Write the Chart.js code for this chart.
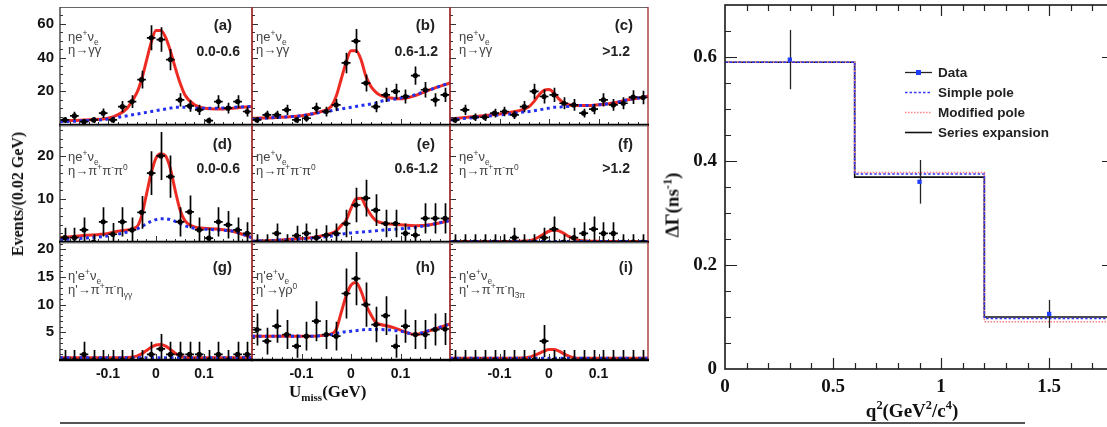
<!DOCTYPE html>
<html><head><meta charset="utf-8">
<script src="https://cdn.jsdelivr.net/npm/chart.js@4.4.1/dist/chart.umd.js"></script>
<style>
html,body{margin:0;padding:0;background:#fff;}
body{width:1107px;height:427px;overflow:hidden;position:relative;}
canvas{position:absolute;}
.t{position:absolute;white-space:nowrap;font-family:"Liberation Sans",Arial,sans-serif;line-height:1;}
.t sup,.t sub{font-size:65%;line-height:0;}
.f{font-size:13px;color:#444;line-height:13px;}
.tag{font-size:15px;font-weight:bold;color:#222;}
.rng{font-size:14px;font-weight:bold;color:#222;}
.ax{font-family:"Liberation Serif","Times New Roman",serif;font-weight:bold;color:#111;}
</style></head><body>
<script>
// ---------------- DATA ----------------
const uBins = [-0.19,-0.17,-0.15,-0.13,-0.11,-0.09,-0.07,-0.05,-0.03,-0.01,0.01,0.03,0.05,0.07,0.09,0.11,0.13,0.15,0.17,0.19];
const curveX = [-0.2,-0.15,-0.1,-0.08,-0.06,-0.04,-0.03,-0.02,-0.01,0,0.01,0.02,0.03,0.04,0.05,0.06,0.08,0.1,0.13,0.16,0.2];
const uTicks = [-0.1, 0, 0.1];
const row1Ticks = [20, 40, 60];
const row2Ticks = [10, 20];
const row3Ticks = [5, 10, 15, 20];

const aVals = [3,5.4,2,3,7,3,10.9,13.9,26.9,51.7,50.7,38.8,14.9,11.3,9,2.6,13.9,10,13.9,8];
const aErrs = [1.8,2.4,1.5,1.8,2.8,1.8,3.4,3.8,5.3,7.4,7.3,6.3,3.9,3.4,3,1.8,3.8,3.2,3.8,2.9];
const aFit  = [2.5,3,4,6,10,19,27,38,49,56,56,52,44,34,25,18,12,10,9.5,10,11];
const aBkg  = [2,2.5,3.5,4.5,5.5,6.5,7,7.5,8,8.5,9,9.5,10,10.5,10.5,10.5,10,10,10,10.5,11];

const bVals = [3,6,6,9,3,4,10,8,11.9,36.8,49.8,24.9,10.9,17.9,19.9,16.9,29.3,20.9,14.9,17.9];
const bErrs = [1.8,2.5,2.5,3,1.8,2.1,3.2,2.9,3.5,6.1,7.1,5,3.3,4.2,4.5,4.1,5.4,4.6,3.9,4.2];
const bFit  = [4,4.5,5.5,6.5,8,11,17,27,37,44,44,39,29,23,19.5,17.5,16,15.5,17.5,21,25];
const bBkg  = [3.5,4.5,5.5,6.5,7.5,8.5,9,9.5,10,10.5,11,11.5,12,12.5,13,14,15,16,18,21,25];

const cVals = [3,9,4.6,4.6,7,8,6,10.9,19.9,16.9,17.9,12.9,11.9,7,9.4,14.9,11.9,12.9,16.5,16.3];
const cErrs = [1.8,3,2.2,2.2,2.6,2.8,2.5,3.3,4.5,4.1,4.2,3.6,3.5,2.6,3,3.9,3.5,3.6,4.1,4];
const cFit  = [3.5,5,6.5,7.5,8.5,11,14,18,20.5,21,19,15.5,13,12,11.5,11.5,11.5,12,13,15,17];
const cBkg  = [3,4.5,6,6.5,7.5,8,8.5,9,9.5,10,10.5,10.5,11,11,11.5,11.5,11.5,12,13,15,17];

const dVals = [1,1,2.8,0,4.7,1.8,4.7,2.8,6.9,16,20,15.2,4.7,7,2.8,0.9,4.7,4,2.8,2];
const dErrs = [2.3,2.3,2.9,1.8,3.4,2.6,3.4,2.9,3.8,5.1,5.6,4.9,3.4,3.8,2.9,2.3,3.4,3.2,2.9,2.6];
const dFit  = [1,1.5,2,2.5,2.8,3.5,6,11,16,19.5,20.5,20,17,12,7.5,5,3.5,3.2,3,2.5,1];
const dBkg  = [0.5,0.9,1.4,1.8,2.3,3,3.6,4.2,4.8,5.2,5.4,5.4,5.2,4.8,4.3,3.8,3.2,3,2.8,2.5,1];

const eVals = [0,0,2,0,1.5,2,1,1.6,2,4.3,8.6,10.2,7.4,4.3,4.3,2,1.6,5.5,5.5,5.5];
const eErrs = [1.8,1.8,2.3,1.8,2.3,2.3,2.1,2.3,2.3,3.2,4,4.3,3.7,3.2,3.2,2.3,2.2,3.5,3.5,3.5];
const eFit  = [0.2,0.4,0.8,1,1.4,2,2.6,3.8,5,7.8,10,10.2,8.2,6.3,5,4.5,4.2,4,3.8,4,5];
const eBkg  = [0.2,0.4,0.7,0.9,1.1,1.4,1.6,1.8,2,2.1,2.2,2.3,2.4,2.5,2.6,2.7,2.9,3.1,3.4,4,5];

const fVals = [0,0,0,0,0,0,1,0,0,1,3,0,1,2,3,2,2,0,0,0];
const fErrs = [1.8,1.8,1.8,1.8,1.8,1.8,2.3,1.8,1.8,2.3,2.9,1.8,2.3,2.6,2.9,2.6,2.6,1.8,1.8,1.8];
const fFit  = [0.1,0.1,0.1,0.1,0.15,0.3,0.6,1.2,1.9,2.5,2.8,2.6,2,1.3,0.7,0.4,0.2,0.15,0.1,0.1,0.1];
const fBkg  = [0.1,0.1,0.1,0.1,0.1,0.1,0.1,0.1,0.1,0.1,0.1,0.1,0.1,0.1,0.1,0.1,0.1,0.1,0.1,0.1,0.1];

const gVals = [0,0,1,0,0,0,0,0,0,1,2,1,1,1,1,0,1,0,1,1];
const gErrs = [1.8,1.8,2.3,1.8,1.8,1.8,1.8,1.8,1.8,2.3,2.7,2.3,2.3,2.3,2.3,1.8,2.3,1.8,2.3,2.3];
const gFit  = [0.4,0.4,0.4,0.4,0.45,0.7,1.1,1.7,2.3,2.7,2.8,2.5,1.9,1.2,0.7,0.5,0.4,0.4,0.4,0.4,0.4];
const gBkg  = [0.4,0.4,0.4,0.4,0.4,0.4,0.4,0.4,0.4,0.4,0.4,0.4,0.4,0.4,0.4,0.4,0.4,0.4,0.4,0.4,0.4];

const hVals = [5.5,3.4,6.1,4.6,2.5,4.3,7,4.6,4.3,12,14.7,10,6.4,8,2.5,6.1,4.6,4.6,5.5,5.6];
const hErrs = [2.9,2.4,3,2.6,2.1,2.6,3.6,2.6,2.6,4.5,4.8,4,3.2,3.5,2.1,3,2.6,2.6,2.9,2.9];
const hFit  = [4.3,4.3,4.3,4.3,4.4,4.7,5.5,8.5,11.5,13.5,14,12.5,10,8.2,6.8,6.4,6,5.4,4.6,5.3,6.5];
const hBkg  = [4.3,4.3,4.3,4.3,4.4,4.6,4.8,5,5.1,5.2,5.3,5.4,5.5,5.5,5.5,5.5,5.4,5.2,4.7,5.4,6.5];

const iVals = [0,0,0,0,0,0,0,0,0,3.4,0,0,0,0,0,0,0,0,0,0];
const iErrs = [1.8,1.8,1.8,1.8,1.8,1.8,1.8,1.8,1.8,2.9,1.8,1.8,1.8,1.8,1.8,1.8,1.8,1.8,1.8,1.8];
const iFit  = [0.3,0.3,0.3,0.3,0.35,0.5,0.8,1.2,1.6,1.9,1.9,1.6,1.1,0.7,0.4,0.3,0.3,0.3,0.3,0.3,0.3];
const iBkg  = [0.3,0.3,0.3,0.3,0.3,0.3,0.3,0.3,0.3,0.3,0.3,0.3,0.3,0.3,0.3,0.3,0.3,0.3,0.3,0.3,0.3];

// right chart
const qEdges = [0, 0.6, 1.2, 1.8];
const seriesExp = [0.59, 0.369, 0.100];
const simplePole = [0.59, 0.375, 0.097];
const modifiedPole = [0.59, 0.378, 0.091];
const dataQ = [0.3, 0.9, 1.5];
const dataRate = [0.595, 0.36, 0.106];
const dataErr = [0.057, 0.042, 0.027];
const qTicks = [0, 0.5, 1, 1.5];
const rateTicks = [0, 0.2, 0.4, 0.6];

// ---------------- LAYOUT ----------------
const COLS = [[60,252],[252,450],[450,648]];
const ROWS = [[7,125],[125,242],[242,360]];
const ROWMAX = [70, 27.2, 21.3];
const ROWTICKS = [row1Ticks, row2Ticks, row3Ticks];
const ROWMINOR = [5, 2, 1];
const RED = '#a02828';

function makeCanvas(left, top, w, h){
  const c = document.createElement('canvas');
  c.width = w; c.height = h;
  c.style.left = left+'px'; c.style.top = top+'px';
  c.style.width = w+'px'; c.style.height = h+'px';
  document.body.appendChild(c);
  return c;
}
function addText(cls, html, css){
  const d = document.createElement('div');
  d.className = 't ' + cls; d.innerHTML = html;
  Object.assign(d.style, css);
  document.body.appendChild(d);
}

const panels = [
  {row:0,col:0,vals:aVals,errs:aErrs,fit:aFit,bkg:aBkg,tag:'(a)',rng:'0.0-0.6',l1:'&eta;e<sup>+</sup>&nu;<sub>e</sub>',l2:'&eta;&rarr;&gamma;&gamma;'},
  {row:0,col:1,vals:bVals,errs:bErrs,fit:bFit,bkg:bBkg,tag:'(b)',rng:'0.6-1.2',l1:'&eta;e<sup>+</sup>&nu;<sub>e</sub>',l2:'&eta;&rarr;&gamma;&gamma;'},
  {row:0,col:2,vals:cVals,errs:cErrs,fit:cFit,bkg:cBkg,tag:'(c)',rng:'&gt;1.2',l1:'&eta;e<sup>+</sup>&nu;<sub>e</sub>',l2:'&eta;&rarr;&gamma;&gamma;'},
  {row:1,col:0,vals:dVals,errs:dErrs,fit:dFit,bkg:dBkg,tag:'(d)',rng:'0.0-0.6',l1:'&eta;e<sup>+</sup>&nu;<sub>e</sub>',l2:'&eta;&rarr;&pi;<sup>+</sup>&pi;<sup>-</sup>&pi;<sup>0</sup>'},
  {row:1,col:1,vals:eVals,errs:eErrs,fit:eFit,bkg:eBkg,tag:'(e)',rng:'0.6-1.2',l1:'&eta;e<sup>+</sup>&nu;<sub>e</sub>',l2:'&eta;&rarr;&pi;<sup>+</sup>&pi;<sup>-</sup>&pi;<sup>0</sup>'},
  {row:1,col:2,vals:fVals,errs:fErrs,fit:fFit,bkg:fBkg,tag:'(f)',rng:'&gt;1.2',l1:'&eta;e<sup>+</sup>&nu;<sub>e</sub>',l2:'&eta;&rarr;&pi;<sup>+</sup>&pi;<sup>-</sup>&pi;<sup>0</sup>'},
  {row:2,col:0,vals:gVals,errs:gErrs,fit:gFit,bkg:gBkg,tag:'(g)',rng:'',l1:"&eta;'e<sup>+</sup>&nu;<sub>e</sub>",l2:"&eta;'&rarr;&pi;<sup>+</sup>&pi;<sup>-</sup>&eta;<sub>&gamma;&gamma;</sub>"},
  {row:2,col:1,vals:hVals,errs:hErrs,fit:hFit,bkg:hBkg,tag:'(h)',rng:'',l1:"&eta;'e<sup>+</sup>&nu;<sub>e</sub>",l2:"&eta;'&rarr;&gamma;&rho;<sup>0</sup>"},
  {row:2,col:2,vals:iVals,errs:iErrs,fit:iFit,bkg:iBkg,tag:'(i)',rng:'',l1:"&eta;'e<sup>+</sup>&nu;<sub>e</sub>",l2:"&eta;'&rarr;&pi;<sup>+</sup>&pi;<sup>-</sup>&eta;<sub>3&pi;</sub>"}
];

function panelPlugin(p){
  return {
    id:'panelDeco',
    beforeDatasetDraw(chart, args){
      if (args.index !== 0) return;
      const {ctx, chartArea:a, scales:{x,y}} = chart;
      ctx.save();
      ctx.beginPath(); ctx.rect(a.left, a.top, a.right-a.left, a.bottom-a.top); ctx.clip();
      ctx.strokeStyle = '#000'; ctx.lineWidth = 1.7;
      uBins.forEach((b,i)=>{
        const v = p.vals[i], e = p.errs[i];
        const px = Math.round(x.getPixelForValue(b))+0.5;
        const py = y.getPixelForValue(v);
        ctx.beginPath();
        ctx.moveTo(px, y.getPixelForValue(v+e)); ctx.lineTo(px, y.getPixelForValue(v-e));
        ctx.moveTo(x.getPixelForValue(b-0.009), py); ctx.lineTo(x.getPixelForValue(b+0.009), py);
        ctx.stroke();
      });
      ctx.restore();
    },
    afterDraw(chart){
      const {ctx, chartArea:a, scales:{x,y}} = chart;
      const r = p.row, c = p.col;
      ctx.save();
      ctx.strokeStyle = '#333'; ctx.lineWidth = 1;
      ctx.beginPath();
      for (let v = ROWMINOR[r]; v < ROWMAX[r]; v += ROWMINOR[r]) {
        const major = ROWTICKS[r].some(t => Math.abs(t - v) < 1e-6);
        const py = Math.round(y.getPixelForValue(v))+0.5;
        ctx.moveTo(a.left, py); ctx.lineTo(a.left + (major ? 6 : 3), py);
      }
      for (let k = -9; k <= 9; k++) {
        const v = k*0.02;
        const major = uTicks.some(t => Math.abs(t - v) < 1e-6);
        const px = Math.round(x.getPixelForValue(v))+0.5;
        ctx.moveTo(px, a.bottom); ctx.lineTo(px, a.bottom - (major ? 6 : 3));
      }
      ctx.stroke();
      ctx.lineWidth = 1; ctx.strokeStyle = '#666';
      ctx.beginPath(); ctx.moveTo(a.left, a.top+0.5); ctx.lineTo(a.right, a.top+0.5); ctx.stroke();
      ctx.lineWidth = 1.3; ctx.strokeStyle = (c === 0) ? '#333' : RED;
      ctx.beginPath(); ctx.moveTo(a.left, a.top); ctx.lineTo(a.left, a.bottom); ctx.stroke();
      ctx.strokeStyle = RED;
      ctx.beginPath(); ctx.moveTo(a.right, a.top); ctx.lineTo(a.right, a.bottom); ctx.stroke();
      ctx.lineWidth = 2.6; ctx.strokeStyle = '#000';
      ctx.beginPath(); ctx.moveTo(a.left-1, a.bottom); ctx.lineTo(a.right+1, a.bottom); ctx.stroke();
      ctx.restore();
    }
  };
}

const SANS = '"Liberation Sans", Arial, sans-serif';
const SERIF = '"Liberation Serif", "Times New Roman", serif';

panels.forEach(p=>{
  const r = p.row, c = p.col;
  const left = c === 0 ? 0 : COLS[c][0]-3;
  const top = ROWS[r][0]-3;
  const w = COLS[c][1]+3-left;
  const h = (r === 2 ? ROWS[r][1]+22 : ROWS[r][1]+3) - top;
  const cv = makeCanvas(left, top, w, h);
  new Chart(cv, {
    type:'line',
    data:{datasets:[
      {data: uBins.map((x,i)=>({x, y:p.vals[i]})), showLine:false, pointRadius:2.6, pointHoverRadius:0,
       pointBackgroundColor:'#000', pointBorderWidth:0, order:0},
      {data: curveX.map((x,i)=>({x, y:p.bkg[i]})), borderColor:'#2430ee', borderWidth:3, borderDash:[3,3.5],
       pointRadius:0, cubicInterpolationMode:'monotone', order:1},
      {data: curveX.map((x,i)=>({x, y:p.fit[i]})), borderColor:'#ee2b22', borderWidth:3,
       pointRadius:0, cubicInterpolationMode:'monotone', order:2}
    ]},
    options:{
      responsive:false, animation:false, devicePixelRatio:1, events:[],
      layout:{padding:{left: c===0 ? 0 : 3, right:3, top:3, bottom: r===2 ? 0 : 3}},
      plugins:{legend:{display:false}, tooltip:{enabled:false}},
      scales:{
        x:{type:'linear', min:-0.2, max:0.2, display: r===2,
           grid:{display:false, drawTicks:false}, border:{display:false},
           ticks:{padding:6, maxRotation:0, autoSkip:false, color:'#111',
                  font:{family:SANS, size:14, weight:'bold'}, callback:v=>String(v)},
           afterBuildTicks:s=>{ s.ticks = uTicks.map(v=>({value:v})); },
           afterFit:s=>{ if (r===2) s.height = 22; s.paddingLeft = 0; s.paddingRight = 0; }},
        y:{type:'linear', min:0, max:ROWMAX[r], display: c===0,
           grid:{display:false, drawTicks:false}, border:{display:false},
           ticks:{padding:6, autoSkip:false, color:'#111',
                  font:{family:SANS, size:15, weight:'bold'}, callback:v=>String(v)},
           afterBuildTicks:s=>{ s.ticks = ROWTICKS[r].map(v=>({value:v})); },
           afterFit:s=>{ if (c===0) s.width = 60; s.paddingTop = 0; s.paddingBottom = 0; }}
      }
    },
    plugins:[panelPlugin(p)]
  });

  const textX = [68, 256, 459][c];
  const lineY = [[37,50],[157,171],[276,290]][r];
  const tagY = [25,144,267][r];
  const tagR = [232,435,633][c];
  const rngR = [240,438,630][c];
  const rngY = [51,168,0][r];
  addText('f', p.l1, {left:textX+'px', top:(lineY[0]-7)+'px'});
  addText('f', p.l2, {left:textX+'px', top:(lineY[1]-7)+'px'});
  addText('tag', p.tag, {right:(1107-tagR)+'px', top:(tagY-8)+'px'});
  if (p.rng) addText('rng', p.rng, {right:(1107-rngR)+'px', top:(rngY-7)+'px'});
});

addText('ax', 'Events/(0.02 GeV)', {left:'18px', top:'194px', fontSize:'16px',
  transform:'translate(-50%,-50%) rotate(-90deg)'});
addText('ax', 'U<sub>miss</sub>(GeV)', {left:'289px', top:'383px', fontSize:'17px'});

// ---------------- RIGHT CHART ----------------
const stepPts = arr => qEdges.map((x,i)=>({x, y: arr[Math.min(i, arr.length-1)]}));

const rightPlugin = {
  id:'rightDeco',
  beforeDatasetDraw(chart, args){
    if (args.index !== 0) return;
    const {ctx, scales:{x,y}} = chart;
    ctx.save(); ctx.strokeStyle = '#222'; ctx.lineWidth = 1.3;
    dataQ.forEach((q,i)=>{
      const px = Math.round(x.getPixelForValue(q))+0.5;
      ctx.beginPath();
      ctx.moveTo(px, y.getPixelForValue(dataRate[i]+dataErr[i]));
      ctx.lineTo(px, y.getPixelForValue(dataRate[i]-dataErr[i]));
      ctx.stroke();
    });
    ctx.restore();
  },
  afterDraw(chart){
    const {ctx, chartArea:a, scales:{x,y}} = chart;
    ctx.save();
    ctx.strokeStyle = '#222'; ctx.lineWidth = 1.2;
    ctx.beginPath();
    for (let k = 1; k < 14; k++) {
      const v = k*0.05;
      const major = rateTicks.some(t => Math.abs(t - v) < 1e-6);
      const L = major ? 12 : 6;
      const py = Math.round(y.getPixelForValue(v))+0.5;
      ctx.moveTo(a.left, py); ctx.lineTo(a.left+L, py);
      ctx.moveTo(a.right, py); ctx.lineTo(a.right-L, py);
    }
    for (let k = 1; k < 18; k++) {
      const v = k*0.1;
      const major = qTicks.some(t => Math.abs(t - v) < 1e-6);
      const L = major ? 11 : 6;
      const px = Math.round(x.getPixelForValue(v))+0.5;
      ctx.moveTo(px, a.bottom); ctx.lineTo(px, a.bottom-L);
      ctx.moveTo(px, a.top); ctx.lineTo(px, a.top+L);
    }
    ctx.stroke();
    ctx.lineWidth = 1.6; ctx.strokeStyle = '#1a1a1a';
    ctx.strokeRect(a.left, a.top, a.right-a.left, a.bottom-a.top);

    const off = 620;
    const lx0 = 905-off, lx1 = 932-off, tx = 938-off;
    const rows = [72, 92, 112, 132];
    ctx.font = 'bold 13.5px ' + SANS; ctx.fillStyle = '#222'; ctx.textBaseline = 'middle';
    const items = [
      {label:'Data', color:'#222', dash:[], w:1.3, marker:true},
      {label:'Simple pole', color:'#3434ff', dash:[2.5,2], w:1.6},
      {label:'Modified pole', color:'#ff8080', dash:[1.5,1.5], w:1.6},
      {label:'Series expansion', color:'#111', dash:[], w:1.6}
    ];
    items.forEach((it,i)=>{
      const yy = rows[i]+0.5;
      ctx.strokeStyle = it.color; ctx.lineWidth = it.w; ctx.setLineDash(it.dash);
      ctx.beginPath(); ctx.moveTo(lx0, yy); ctx.lineTo(lx1, yy); ctx.stroke();
      ctx.setLineDash([]);
      if (it.marker) { ctx.fillStyle = '#1f3dff'; ctx.fillRect((lx0+lx1)/2-2.5, yy-2.5, 5, 5); }
      ctx.fillStyle = '#222';
      ctx.fillText(it.label, tx, rows[i]+1);
    });
    ctx.restore();
  }
};

const rc = makeCanvas(620, 0, 500, 427);
new Chart(rc, {
  type:'line',
  data:{datasets:[
    {data: dataQ.map((q,i)=>({x:q, y:dataRate[i]})), showLine:false, pointStyle:'rect', pointRadius:3,
     pointBackgroundColor:'#1f3dff', pointBorderWidth:0, order:0},
    {data: stepPts(simplePole), stepped:true, borderColor:'#3434ff', borderWidth:1.6, borderDash:[2.5,2], pointRadius:0, order:1},
    {data: stepPts(modifiedPole), stepped:true, borderColor:'#ff8080', borderWidth:1.6, borderDash:[1.5,1.5], pointRadius:0, order:2},
    {data: stepPts(seriesExp), stepped:true, borderColor:'#111', borderWidth:1.6, pointRadius:0, order:3}
  ]},
  options:{
    responsive:false, animation:false, devicePixelRatio:1, events:[],
    layout:{padding:{left:0, right:6, top:5, bottom:0}},
    plugins:{legend:{display:false}, tooltip:{enabled:false}},
    scales:{
      x:{type:'linear', min:0, max:1.8, grid:{display:false, drawTicks:false}, border:{display:false},
         ticks:{padding:7, maxRotation:0, autoSkip:false, color:'#111', font:{family:SERIF, size:19, weight:'bold'},
                callback:v=>String(v)},
         afterBuildTicks:s=>{ s.ticks = qTicks.map(v=>({value:v})); },
         afterFit:s=>{ s.height = 58; s.paddingLeft = 0; s.paddingRight = 0; }},
      y:{type:'linear', min:0, max:0.7, grid:{display:false, drawTicks:false}, border:{display:false},
         ticks:{padding:8, autoSkip:false, color:'#111', font:{family:SERIF, size:19, weight:'bold'},
                callback:v=> v === 0 ? '0' : v.toFixed(1)},
         afterBuildTicks:s=>{ s.ticks = rateTicks.map(v=>({value:v})); },
         afterFit:s=>{ s.width = 105; s.paddingTop = 0; s.paddingBottom = 0; }}
    }
  },
  plugins:[rightPlugin]
});

addText('ax', '&Delta;&Gamma;(ns<sup>-1</sup>)', {left:'672px', top:'205px', fontSize:'19px',
  transform:'translate(-50%,-50%) rotate(-90deg)'});
addText('ax', 'q<sup>2</sup>(GeV<sup>2</sup>/c<sup>4</sup>)', {left:'912px', top:'410px', fontSize:'19px',
  transform:'translate(-50%,-50%)'});

const sep = document.createElement('div');
Object.assign(sep.style, {position:'absolute', left:'60px', top:'422px', width:'965px', height:'2px', background:'#555'});
document.body.appendChild(sep);
</script>
</body></html>
